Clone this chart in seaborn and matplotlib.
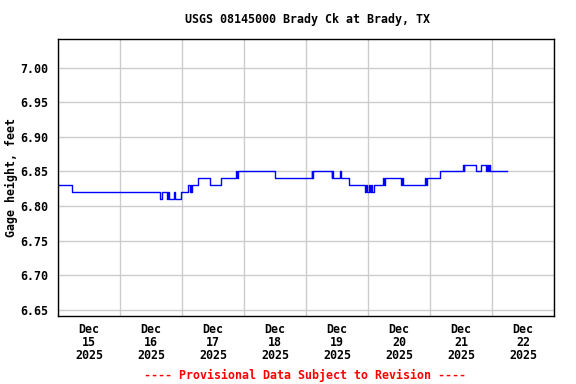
import pandas as pd
import matplotlib.pyplot as plt
import matplotlib.dates as mdates
import seaborn as sns

# gage height change points: hours after Dec 15 00:00 and the new value (feet)
hours = [0, 5.5, 39.5, 40.1, 42.3, 42.6, 43.0, 45.0, 45.3, 47.5,
         50.4, 51.0, 51.3, 51.6, 51.9, 54.3, 58.8, 63.0, 68.9, 69.2,
         69.7, 84.0, 98.2, 98.5, 98.8, 105.9, 106.2, 106.6, 109.2, 109.5,
         112.8, 118.8, 119.2, 119.5, 120.3, 120.7, 121.3, 121.7, 122.5, 123.4,
         125.9, 126.3, 126.6, 132.7, 133.0, 133.4, 142.1, 142.4, 142.8, 147.9,
         156.7, 157.0, 157.3, 161.8, 163.7, 165.7, 166.0, 166.5, 166.9, 167.4,
         168.3, 173.7]
gage = [6.83, 6.82, 6.81, 6.82, 6.81, 6.82, 6.81, 6.82, 6.81, 6.82,
        6.83, 6.82, 6.83, 6.82, 6.83, 6.84, 6.83, 6.84, 6.85, 6.84,
        6.85, 6.84, 6.85, 6.84, 6.85, 6.84, 6.85, 6.84, 6.85, 6.84,
        6.83, 6.82, 6.83, 6.82, 6.83, 6.82, 6.83, 6.82, 6.83, 6.83,
        6.84, 6.83, 6.84, 6.83, 6.84, 6.83, 6.84, 6.83, 6.84, 6.85,
        6.86, 6.85, 6.86, 6.85, 6.86, 6.85, 6.86, 6.85, 6.86, 6.85,
        6.85, 6.85]

start = pd.Timestamp('2025-12-15')
df = pd.DataFrame({'time': start + pd.to_timedelta(hours, unit='h'), 'gage': gage})

font = ['DejaVu Sans Mono']
plt.rcParams['font.family'] = font
plt.rcParams['font.weight'] = 'bold'

fig = plt.figure(figsize=(5.76, 3.84), dpi=100)
ax = fig.add_axes([0.1007, 0.1771, 0.8611, 0.7213])

sns.lineplot(data=df, x='time', y='gage', ax=ax, color='#0000ff', linewidth=1,
             drawstyle='steps-post', estimator=None)

ax.set_xlim(start, pd.Timestamp('2025-12-23'))
ax.set_ylim(6.641, 7.0415)
ax.set_yticks([6.65, 6.70, 6.75, 6.80, 6.85, 6.90, 6.95, 7.00])
ax.set_yticklabels(['%.2f' % v for v in ax.get_yticks()], fontsize=8.4, fontweight='bold')

# gridlines at midnight, labels at noon
ax.xaxis.set_major_locator(mdates.DayLocator())
ax.xaxis.set_major_formatter(plt.NullFormatter())
ax.xaxis.set_minor_locator(mdates.HourLocator(byhour=[12]))
ax.xaxis.set_minor_formatter(mdates.DateFormatter('%b\n%d\n%Y'))
for lab in ax.xaxis.get_minorticklabels():
    lab.set_fontsize(8.4)
    lab.set_fontweight('bold')
    lab.set_linespacing(1.0)
ax.tick_params(axis='both', which='both', length=0, pad=7)
ax.tick_params(axis='x', which='minor', pad=5)

ax.grid(True, which='major', color='#cccccc', linewidth=1)
ax.set_axisbelow(True)
for s in ax.spines.values():
    s.set_color('black')
    s.set_linewidth(1)

ax.set_xlabel('')
ax.set_ylabel('Gage height, feet', fontsize=8.4, fontweight='bold')
ax.yaxis.set_label_coords(-0.08, 0.5)
fig.text(0.533, 0.948, 'USGS 08145000 Brady Ck at Brady, TX', ha='center', va='center',
         fontsize=8.4, fontweight='bold')
fig.text(0.53, 0.023, '---- Provisional Data Subject to Revision ----', ha='center',
         va='center', fontsize=8.4, fontweight='bold', color='red')

fig.savefig('out.png', dpi=100)
